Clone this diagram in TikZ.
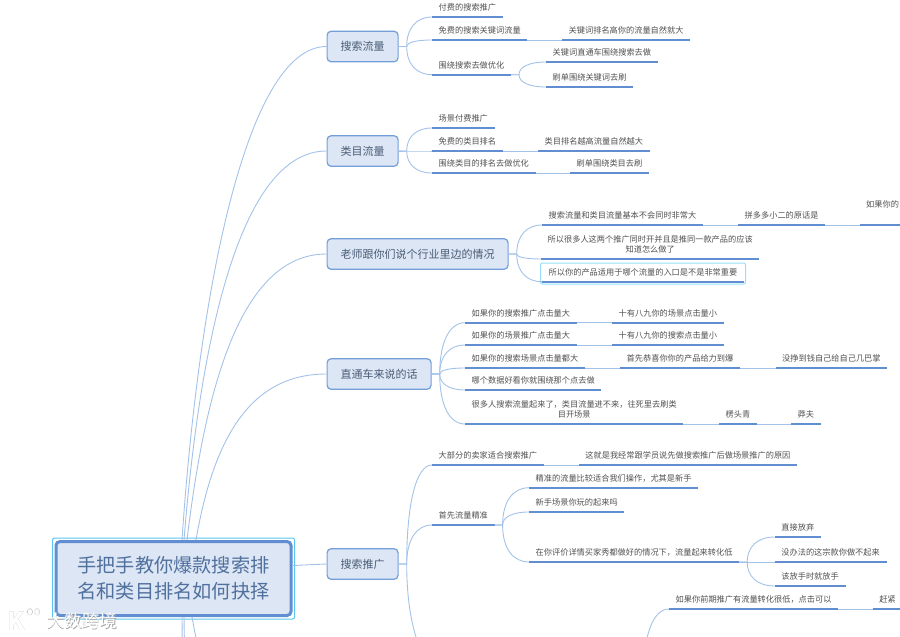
\documentclass[tikz,border=0pt]{standalone}
\usepackage{fontspec}
\setmainfont{Noto Sans CJK SC}
\usetikzlibrary{calc,fit}
\definecolor{linkblue}{RGB}{163,194,232}
\definecolor{barblue}{RGB}{96,142,208}
\definecolor{boxline}{RGB}{116,158,216}
\definecolor{boxfill}{RGB}{220,230,244}
\definecolor{selectcyan}{RGB}{150,222,248}
\definecolor{rootcyan}{RGB}{92,196,240}
\definecolor{leafgray}{RGB}{80,80,80}
\definecolor{topicslate}{RGB}{74,92,118}
\definecolor{rootslate}{RGB}{80,112,158}

\begin{document}
\begin{tikzpicture}[
    x=1pt,
    y=-1pt,
    link/.style={linkblue,line width=0.9pt},
    twig/.style={to path={(\tikztostart) -- ++(8,0) coordinate (fork)
      .. controls ($(fork)!.62!(fork |- \tikztotarget)$) and ($(\tikztotarget)!.62!(fork |- \tikztotarget)$) .. (\tikztotarget)}},
    bar/.style={barblue,line width=2pt},
    leaf/.style={anchor=south west,inner xsep=6.5pt,inner ysep=5pt,text height=7pt,text depth=1pt,
      font=\fontsize{8.2}{10.7}\selectfont,text=leafgray,
      append after command={(\tikzlastnode.south west) edge[bar] (\tikzlastnode.south east)}},
    topic/.style={anchor=west,draw=boxline,fill=boxfill,rounded corners=4pt,line width=1.2pt,inner xsep=13.5pt,
      minimum height=30.5pt,font=\fontsize{11}{13}\selectfont,text=topicslate},
    selectbox/.style={draw=selectcyan,line width=1pt,rounded corners=2pt,inner xsep=2pt,inner ysep=1.5pt},
    markshade/.style={gray!70},
    markface/.style={white}
]
  \useasboundingbox (0,0) rectangle (900,637);

  \node[topic] (searchflow) at (326.5,46.5) {搜索流量};
  \node[topic] (categoryflow) at (326.5,151) {类目流量};
  \node[topic] (teacher) at (326.5,254) {老师跟你们说个行业里边的情况};
  \node[topic] (express) at (326.5,374) {直通车来说的话};
  \node[topic] (searchpromo) at (326.5,564) {搜索推广};
  \node[draw=barblue,fill=boxfill,line width=3pt,rounded corners=4pt,minimum width=235pt,minimum height=74pt,
    align=center,font=\fontsize{19.2}{26}\selectfont,text=rootslate] (root) at (173.5,578.5)
    {手把手教你爆款搜索排\\名和类目排名如何抉择};
  \node[draw=rootcyan,line width=1pt,rounded corners=2pt,inner sep=2pt,fit=(root)] (rootframe) {};

  % search flow
  \node[leaf] (paidsearch) at (432,17) {付费的搜索推广};
  \node[leaf] (freesearch) at (432,40) {免费的搜索关键词流量};
  \node[leaf] (keywordrank) at (562,40) {关键词排名高你的流量自然就大};
  \node[leaf] (searchseo) at (432,74.7) {围绕搜索去做优化};
  \node[leaf] (keywordcar) at (546,62) {关键词直通车围绕搜索去做};
  \node[leaf] (keywordfake) at (546,87) {刷单围绕关键词去刷};

  % category flow
  \node[leaf] (paidscene) at (432,128) {场景付费推广};
  \node[leaf] (freecategory) at (432,151) {免费的类目排名};
  \node[leaf] (categoryrank) at (538,151) {类目排名越高流量自然越大};
  \node[leaf] (categoryseo) at (432,173) {围绕类目的排名去做优化};
  \node[leaf] (categoryfake) at (570,173) {刷单围绕类目去刷};

  % teacher
  \node[leaf] (notboth) at (542,225) {搜索流量和类目流量基本不会同时非常大};
  \node[leaf] (pddstaff) at (738,225) {拼多多小二的原话是};
  \node[leaf,text width=70pt,align=left,text depth=12pt] (ifyours) at (859.5,225) {如果你的};
  \node[leaf,align=center,text height=18pt] (bothon) at (541,259)
    {所以很多人这两个推广同时开并且是推同一款产品的应该\\知道怎么做了};
  \node[selectbox,minimum width=205pt,minimum height=21pt] (selection) at (643,273.5) {};
  \node[leaf] (rightentry) at (542,281.7) {所以你的产品适用于哪个流量的入口是不是非常重要};

  % express
  \node[leaf] (bigsearch) at (465,322.7) {如果你的搜索推广点击量大};
  \node[leaf] (smallscene) at (612,322.7) {十有八九你的场景点击量小};
  \node[leaf] (bigscene) at (465,345) {如果你的场景推广点击量大};
  \node[leaf] (smallsearch) at (612,345) {十有八九你的搜索点击量小};
  \node[leaf] (bigboth) at (465,368) {如果你的搜索场景点击量都大};
  \node[leaf] (goodproduct) at (620,368) {首先恭喜你你的产品给力到爆};
  \node[leaf] (nomoney) at (775.5,368) {没挣到钱自己给自己几巴掌};
  \node[leaf] (gooddata) at (465,390) {哪个数据好看你就围绕那个点去做};
  \node[leaf,align=center,text height=18pt] (brushcategory) at (465,424)
    {很多人搜索流量起来了，类目流量进不来，往死里去刷类\\目开场景};
  \node[leaf] (greenhead) at (719,424) {楞头青};
  \node[leaf] (reckless) at (791,424) {莽夫};

  % search promotion
  \node[leaf] (mostsellers) at (432,465) {大部分的卖家适合搜索推广};
  \node[leaf] (whysearch) at (578.7,465) {这就是我经常跟学员说先做搜索推广后做场景推广的原因};
  \node[leaf] (precise) at (432,525) {首先流量精准};
  \node[leaf] (suitsnew) at (529,487.7) {精准的流量比较适合我们操作，尤其是新手};
  \node[leaf] (newscene) at (529,512) {新手场景你玩的起来吗};
  \node[leaf] (lowconvert) at (529,562) {在你评价详情买家秀都做好的情况下，流量起来转化低};
  \node[leaf] (giveup) at (774.7,537) {直接放弃};
  \node[leaf] (cannot) at (774.7,562) {没办法的这宗款你做不起来};
  \node[leaf] (letgo) at (774.7,586) {该放手时就放手};
  \node[leaf] (earlylow) at (669,609) {如果你前期推广有流量转化很低，点击可以};
  \node[leaf,text width=40pt,align=left] (hurry) at (872.7,609) {赶紧};

  % ends that run off the page
  \coordinate (promotail) at (470,690);
  \coordinate (earlyhead) at (635,680);
  \coordinate (downone) at (182,760);
  \coordinate (downtwo) at (186,760);
  \coordinate (downthree) at (240,760);

  \draw[link] ([xshift=8.5]root.north) .. controls (198,300) and (245,46.5) .. (searchflow.west);
  \draw[link] ([xshift=10.5]root.north) .. controls (200,340) and (240,151) .. (categoryflow.west);
  \draw[link] ([xshift=13.5]root.north) .. controls (205,390) and (240,254) .. (teacher.west);
  \draw[link] ([xshift=22.5]root.north) .. controls (215,430) and (255,374) .. (express.west);
  \draw[link] ([yshift=13]root.east) -- (searchpromo.west);
  \draw[link] ([xshift=8.5]root.south) .. controls (182.5,680) .. (downone);
  \draw[link] ([xshift=10.5]root.south) .. controls (185,680) .. (downtwo);
  \draw[link] ([xshift=18.5]root.south) .. controls (200,660) .. (downthree);

  \foreach \from/\kid in {
      searchflow.east/paidsearch,searchflow.east/freesearch,searchflow.east/searchseo,
      searchseo.south east/keywordcar,searchseo.south east/keywordfake,
      categoryflow.east/paidscene,categoryflow.east/freecategory,categoryflow.east/categoryseo,
      teacher.east/notboth,teacher.east/bothon,teacher.east/rightentry,
      express.east/bigsearch,express.east/bigscene,express.east/bigboth,express.east/gooddata,express.east/brushcategory,
      searchpromo.east/mostsellers,searchpromo.east/precise,
      precise.south east/suitsnew,precise.south east/newscene,precise.south east/lowconvert,
      lowconvert.south east/giveup,lowconvert.south east/letgo,
      earlyhead/earlylow}
    \draw[link,twig] (\from) to (\kid.south west);
  \draw[link,twig] (searchpromo.east) to (promotail);

  \foreach \from/\kid in {
      freesearch/keywordrank,freecategory/categoryrank,categoryseo/categoryfake,
      notboth/pddstaff,pddstaff/ifyours,
      bigsearch/smallscene,bigscene/smallsearch,bigboth/goodproduct,goodproduct/nomoney,
      brushcategory/greenhead,greenhead/reckless,
      mostsellers/whysearch,lowconvert/cannot,earlylow/hurry}
    \draw[link] (\from.south east) -- (\kid.south west);

  % watermark
  \node[markshade,font=\fontsize{17.5}{18}\selectfont] at (82.6,621.6) {大数跨境};
  \node[markface,font=\fontsize{17.5}{18}\selectfont] (markname) at (82,621) {大数跨境};
  \node[markshade,font=\bfseries\fontsize{25}{25}\selectfont] at (16.6,621.6) {K};
  \node[markface,font=\bfseries\fontsize{25}{25}\selectfont] (markletter) at (16,621) {K};
  \node[markshade,font=\fontsize{12}{12}\selectfont] at (33.5,612.5) {oo};
  \node[markface,font=\fontsize{12}{12}\selectfont] (markrings) at (33,612) {oo};
\end{tikzpicture}
\end{document}
